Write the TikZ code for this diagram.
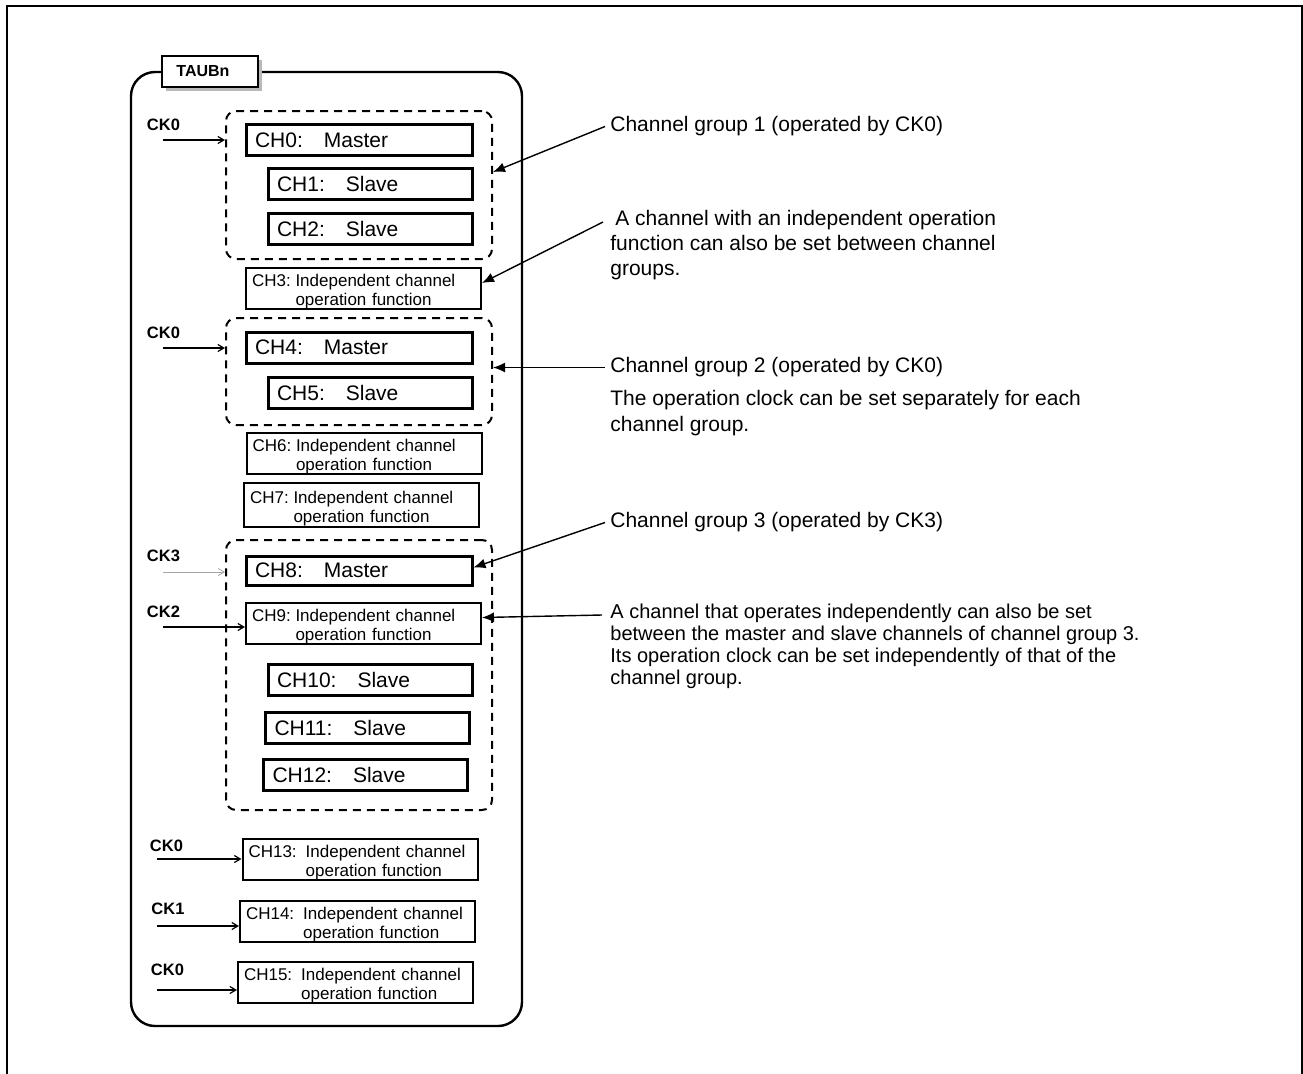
\documentclass[tikz,border=0pt]{standalone}
\usepackage{fontspec}
\setmainfont{Liberation Sans}
\usetikzlibrary{arrows.meta,positioning,calc}
\newcommand\chfont{\fontsize{10.5}{12}\selectfont}
\newcommand\smfont{\fontsize{8.5}{9.5}\selectfont}
\newcommand\ckfont{\fontsize{8.25}{10}\selectfont\bfseries}
\newcommand\notefont{\fontsize{10.5}{12.5}\selectfont}
\newcommand\indeptxt[2]{\raisebox{-2pt}[\height][\depth]{\begin{tabular}{@{}l@{\hspace{#2}}l@{}}#1 & Independent channel\\ & operation function\end{tabular}}}
\tikzset{
  chbox/.style   = {draw, line width=1.5pt, inner xsep=4.5pt, inner ysep=0pt,
                    minimum height=15.5pt, text width=#1, align=left, font=\chfont},
  master/.style  = {chbox=104pt},
  slave/.style   = {chbox=93pt},
  indep/.style   = {draw, line width=1pt, inner xsep=3pt, inner ysep=0.5pt,
                    minimum height=20.5pt, text width=111.5pt, align=left, font=\smfont},
  group/.style   = {draw, line width=1pt, dash pattern=on 4pt off 3pt,
                    rounded corners=5pt, inner sep=0pt, minimum width=133pt},
  tag/.style     = {draw, fill=white, line width=1pt, inner sep=0pt,
                    minimum width=48pt, minimum height=15.5pt,
                    font=\fontsize{8}{10}\selectfont\bfseries},
  cklbl/.style   = {inner sep=0pt, font=\ckfont},
  clk/.style     = {-{Straight Barb[length=3pt,width=3.5pt]}, line width=0.6pt},
  callout/.style = {-{Latex[length=6pt,width=5pt]}, line width=0.7pt},
  note/.style    = {align=left, anchor=north west, inner xsep=2.5pt, inner ysep=0pt, font=\notefont},
}
\begin{document}
\begin{tikzpicture}[x=0.5pt,y=-0.5pt]
\useasboundingbox (0,0) rectangle (1303,1073);
\clip (0,0) rectangle (1303,1073);
\draw[line width=1.2pt] (7,6) rectangle (1302,1100);

% TAUBn unit
\draw[line width=1.2pt, rounded corners=12pt] (131,72) rectangle (522,1026);
\fill[gray!55] (166,60) rectangle (262,91);
\node[tag] (taub) at (210,71.5) {TAUBn\kern7pt};

% channel groups
\node[group, minimum height=74pt] (grp1) at (359,185) {};
\node[group, minimum height=53.5pt] (grp2) at (359,371.5) {};
\node[group, minimum height=135pt] (grp3) at (359,675) {};

% channels
\node[master] (ch0) at (359,140) {CH0:\quad Master};
\node[slave] (ch1) at (370,184) {CH1:\quad Slave};
\node[slave] (ch2) at (370,228.5) {CH2:\quad Slave};
\node[indep] (ch3) at (363.5,288) {\indeptxt{CH3:}{2.4pt}};
\node[master] (ch4) at (359,347.5) {CH4:\quad Master};
\node[slave] (ch5) at (370,392.5) {CH5:\quad Slave};
\node[indep] (ch6) at (364,453.5) {\indeptxt{CH6:}{2.4pt}};
\node[indep, minimum height=22pt] (ch7) at (361.5,505) {\indeptxt{CH7:}{2.4pt}};
\node[master, minimum height=14.5pt] (ch8) at (359,570.5) {CH8:\quad Master};
\node[indep] (ch9) at (363.5,623.5) {\indeptxt{CH9:}{2.4pt}};
\node[slave] (ch10) at (370,679.5) {CH10:\quad Slave};
\node[slave] (ch11) at (367.5,728) {CH11:\quad Slave};
\node[slave] (ch12) at (365.5,774.5) {CH12:\quad Slave};

% clock inputs
\node[cklbl] (ck0a) at (163.5,125) {CK0};
\coordinate (k0a) at (163,140);
\draw[clk] (k0a) -- (k0a -| grp1.west);
\node[cklbl] (ck0b) at (163.5,333) {CK0};
\coordinate (k0b) at (163,348);
\draw[clk] (k0b) -- (k0b -| grp2.west);
\node[cklbl] (ck3) at (163.5,555.5) {CK3};
\coordinate (k3) at (163,572);
\draw[clk, gray!70, line width=0.4pt] (k3) -- (k3 -| grp3.west);
\node[cklbl] (ck2) at (163.5,612) {CK2};
\coordinate (k2) at (163,627);
\draw[clk] (k2) -- (k2 -| ch9.west);

\foreach \n/\k/\x/\y/\lx/\ly/\ay in {13/0/360/859.5/166.5/846/859,
    14/1/357.5/921/168/909/926, 15/0/355.5/982.5/167.5/970/990} {
  \node[indep] (ch\n) at (\x,\y) {\indeptxt{CH\n:}{4.5pt}};
  \node[cklbl] (ck\n) at (\lx,\ly) {CK\k};
  \coordinate (k\n) at (157,\ay);
  \draw[clk] (k\n) -- (k\n -| ch\n.west);
}

% notes
\node[note, anchor=west] (note1) at (605,126.5) {Channel group 1 (operated by CK0)};
\node[note] (note2) at (605,210) {\hspace*{2.5pt}A channel with an independent operation\\
  function can also be set between channel\\groups.};
\node[note, anchor=west] (note3) at (605,367.5) {Channel group 2 (operated by CK0)};
\node[note, font=\fontsize{10.5}{13}\selectfont] (desc2) at (605,390)
  {The operation clock can be set separately for each\\channel group.};
\node[note, anchor=west] (note4) at (605,522.5) {Channel group 3 (operated by CK3)};
\node[note, font=\fontsize{10}{11}\selectfont] (note5) at (605,604)
  {A channel that operates independently can also be set\\
   between the master and slave channels of channel group 3.\\
   Its operation clock can be set independently of that of the\\
   channel group.};

\coordinate (p2) at (603,222);
\coordinate (p5) at (602,615);
\draw[callout] (note1.west) -- ([yshift=6.5pt]grp1.east);
\draw[callout] (p2) -- ([yshift=2.5pt]ch3.east);
\draw[callout] (note3.west) -- ([yshift=2pt]grp2.east);
\draw[callout] (note4.west) -- ([yshift=1.5pt]ch8.east);
\draw[callout] (p5) -- ([yshift=3pt]ch9.east);
\end{tikzpicture}
\end{document}
